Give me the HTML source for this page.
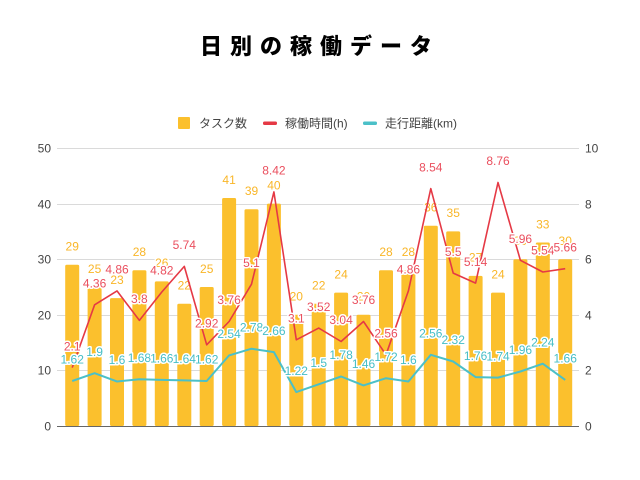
<!DOCTYPE html>
<html><head><meta charset="utf-8"><style>
html,body{margin:0;padding:0;background:#fff;}
body{width:640px;height:480px;overflow:hidden;position:relative;}
svg{position:absolute;left:0;top:0;}
</style></head><body>
<svg width="640" height="480" viewBox="0 0 640 480" xmlns="http://www.w3.org/2000/svg">
<rect width="640" height="480" fill="#fff"/>
<text x="320" y="54" text-anchor="middle" font-family="'Noto Sans CJK JP','Liberation Sans',sans-serif" font-weight="900" font-size="22" letter-spacing="8" fill="#000">日別の稼働データ</text>
<!-- legend -->
<g font-family="'Liberation Sans','Noto Sans CJK JP',sans-serif" font-size="12" fill="#444">
<rect x="178" y="117" width="12" height="12" fill="#FBC02D" rx="1"/>
<text x="199" y="127.5">タスク数</text>
<rect x="263" y="121.5" width="14" height="3.5" fill="#E53945" rx="1.5"/>
<text x="285" y="127.5">稼働時間(h)</text>
<rect x="363" y="121.5" width="14" height="3.5" fill="#4BC0C8" rx="1.5"/>
<text x="385" y="127.5">走行距離(km)</text>
</g>
<!-- grid -->
<g stroke="#dadada" stroke-width="1">
<line x1="57" x2="579" y1="148.5" y2="148.5"/>
<line x1="57" x2="579" y1="204.5" y2="204.5"/>
<line x1="57" x2="579" y1="259.5" y2="259.5"/>
<line x1="57" x2="579" y1="315.5" y2="315.5"/>
<line x1="57" x2="579" y1="370.5" y2="370.5"/>
</g>
<g font-family="'Liberation Sans',sans-serif" font-size="12" fill="#444">
<g text-anchor="end">
<text x="51" y="152.5">50</text>
<text x="51" y="208.5">40</text>
<text x="51" y="263.5">30</text>
<text x="51" y="319.5">20</text>
<text x="51" y="374.5">10</text>
<text x="51" y="430.5">0</text>
</g>
<text x="585" y="152.5">10</text>
<text x="585" y="208.5">8</text>
<text x="585" y="263.5">6</text>
<text x="585" y="319.5">4</text>
<text x="585" y="374.5">2</text>
<text x="585" y="430.5">0</text>
</g>
<!-- bars -->
<g fill="#FBC02D">
<rect x="65.2" y="264.8" width="14" height="161.2" rx="1.5"/>
<rect x="87.6" y="287.0" width="14" height="139" rx="1.5"/>
<rect x="110.0" y="298.1" width="14" height="127.9" rx="1.5"/>
<rect x="132.4" y="270.3" width="14" height="155.7" rx="1.5"/>
<rect x="154.8" y="281.4" width="14" height="144.6" rx="1.5"/>
<rect x="177.3" y="303.7" width="14" height="122.3" rx="1.5"/>
<rect x="199.7" y="287.0" width="14" height="139" rx="1.5"/>
<rect x="222.1" y="198.0" width="14" height="228" rx="1.5"/>
<rect x="244.5" y="209.2" width="14" height="216.8" rx="1.5"/>
<rect x="266.9" y="203.6" width="14" height="222.4" rx="1.5"/>
<rect x="289.3" y="314.8" width="14" height="111.2" rx="1.5"/>
<rect x="311.7" y="303.7" width="14" height="122.3" rx="1.5"/>
<rect x="334.1" y="292.6" width="14" height="133.4" rx="1.5"/>
<rect x="356.5" y="314.8" width="14" height="111.2" rx="1.5"/>
<rect x="379.0" y="270.3" width="14" height="155.7" rx="1.5"/>
<rect x="401.4" y="270.3" width="14" height="155.7" rx="1.5"/>
<rect x="423.8" y="225.8" width="14" height="200.2" rx="1.5"/>
<rect x="446.2" y="231.4" width="14" height="194.6" rx="1.5"/>
<rect x="468.6" y="275.9" width="14" height="150.1" rx="1.5"/>
<rect x="491.0" y="292.6" width="14" height="133.4" rx="1.5"/>
<rect x="513.4" y="259.2" width="14" height="166.8" rx="1.5"/>
<rect x="535.8" y="242.5" width="14" height="183.5" rx="1.5"/>
<rect x="558.2" y="259.2" width="14" height="166.8" rx="1.5"/>
</g>
<line x1="57" x2="579" y1="426.5" y2="426.5" stroke="#666" stroke-width="1"/>
<!-- bar labels -->
<g font-family="'Liberation Sans',sans-serif" font-size="12" fill="#F9B628" text-anchor="middle" stroke="#fff" stroke-width="3" paint-order="stroke" stroke-linejoin="round">
<text x="72.2" y="250.6">29</text>
<text x="94.6" y="272.8">25</text>
<text x="117.0" y="283.9">23</text>
<text x="139.4" y="256.1">28</text>
<text x="161.8" y="267.2">26</text>
<text x="184.3" y="289.5">22</text>
<text x="206.7" y="272.8">25</text>
<text x="229.1" y="183.8">41</text>
<text x="251.5" y="195.0">39</text>
<text x="273.9" y="189.4">40</text>
<text x="296.3" y="300.6">20</text>
<text x="318.7" y="289.5">22</text>
<text x="341.1" y="278.4">24</text>
<text x="363.5" y="300.6">20</text>
<text x="386.0" y="256.1">28</text>
<text x="408.4" y="256.1">28</text>
<text x="430.8" y="211.6">36</text>
<text x="453.2" y="217.2">35</text>
<text x="475.6" y="261.7">27</text>
<text x="498.0" y="278.4">24</text>
<text x="520.4" y="245.0">30</text>
<text x="542.8" y="228.3">33</text>
<text x="565.2" y="245.0">30</text>
</g>
<!-- lines -->
<polyline fill="none" stroke="#E53945" stroke-width="1.6" stroke-linejoin="round" points="72.2,367.6 94.6,304.8 117.0,290.9 139.4,320.4 161.8,292.0 184.3,266.4 206.7,344.8 229.1,321.5 251.5,284.2 273.9,191.9 296.3,339.8 318.7,328.1 341.1,341.5 363.5,321.5 386.0,354.8 408.4,290.9 430.8,188.6 453.2,273.1 475.6,283.1 498.0,182.5 520.4,260.3 542.8,272.0 565.2,268.7"/>
<polyline fill="none" stroke="#4BC0C8" stroke-width="2" stroke-linejoin="round" points="72.2,381.0 94.6,373.2 117.0,381.5 139.4,379.3 161.8,379.9 184.3,380.4 206.7,381.0 229.1,355.4 251.5,348.7 273.9,352.1 296.3,392.1 318.7,384.3 341.1,376.5 363.5,385.4 386.0,378.2 408.4,381.5 430.8,354.8 453.2,361.5 475.6,377.1 498.0,377.6 520.4,371.5 542.8,363.7 565.2,379.9"/>
<!-- red labels -->
<g font-family="'Liberation Sans',sans-serif" font-size="12" fill="#EA4F5E" text-anchor="middle" stroke="#fff" stroke-width="3" paint-order="stroke" stroke-linejoin="round">
<text x="72.2" y="350.3">2.1</text>
<text x="94.6" y="287.5">4.36</text>
<text x="117.0" y="273.6">4.86</text>
<text x="139.4" y="303.1">3.8</text>
<text x="161.8" y="274.7">4.82</text>
<text x="184.3" y="249.1">5.74</text>
<text x="206.7" y="327.5">2.92</text>
<text x="229.1" y="304.2">3.76</text>
<text x="251.5" y="266.9">5.1</text>
<text x="273.9" y="174.6">8.42</text>
<text x="296.3" y="322.5">3.1</text>
<text x="318.7" y="310.8">3.52</text>
<text x="341.1" y="324.2">3.04</text>
<text x="363.5" y="304.2">3.76</text>
<text x="386.0" y="337.5">2.56</text>
<text x="408.4" y="273.6">4.86</text>
<text x="430.8" y="171.3">8.54</text>
<text x="453.2" y="255.8">5.5</text>
<text x="475.6" y="265.8">5.14</text>
<text x="498.0" y="165.2">8.76</text>
<text x="520.4" y="243.0">5.96</text>
<text x="542.8" y="254.7">5.54</text>
<text x="565.2" y="251.4">5.66</text>
</g>
<!-- cyan labels -->
<g font-family="'Liberation Sans',sans-serif" font-size="12" fill="#46BEC6" text-anchor="middle" stroke="#fff" stroke-width="3" paint-order="stroke" stroke-linejoin="round">
<text x="72.2" y="363.7">1.62</text>
<text x="94.6" y="355.9">1.9</text>
<text x="117.0" y="364.2">1.6</text>
<text x="139.4" y="362.0">1.68</text>
<text x="161.8" y="362.6">1.66</text>
<text x="184.3" y="363.1">1.64</text>
<text x="206.7" y="363.7">1.62</text>
<text x="229.1" y="338.1">2.54</text>
<text x="251.5" y="331.4">2.78</text>
<text x="273.9" y="334.8">2.66</text>
<text x="296.3" y="374.8">1.22</text>
<text x="318.7" y="367.0">1.5</text>
<text x="341.1" y="359.2">1.78</text>
<text x="363.5" y="368.1">1.46</text>
<text x="386.0" y="360.9">1.72</text>
<text x="408.4" y="364.2">1.6</text>
<text x="430.8" y="337.5">2.56</text>
<text x="453.2" y="344.2">2.32</text>
<text x="475.6" y="359.8">1.76</text>
<text x="498.0" y="360.3">1.74</text>
<text x="520.4" y="354.2">1.96</text>
<text x="542.8" y="346.4">2.24</text>
<text x="565.2" y="362.6">1.66</text>
</g>
</svg>
</body></html>
